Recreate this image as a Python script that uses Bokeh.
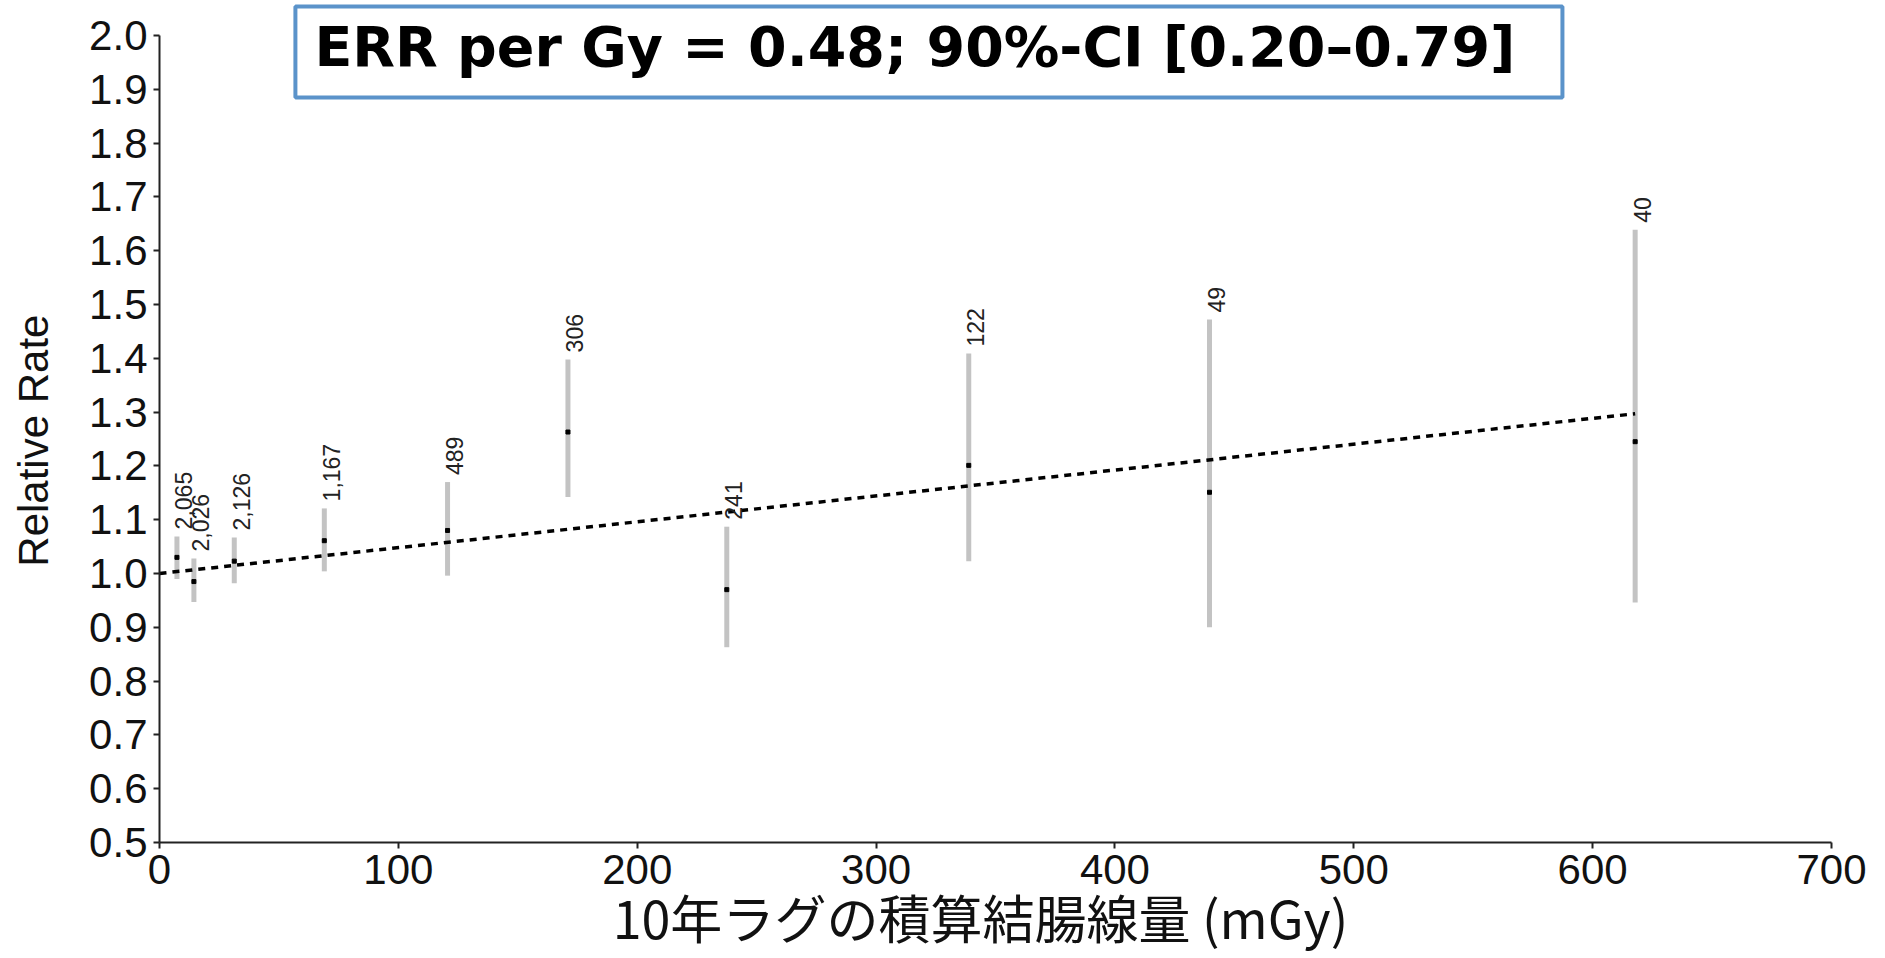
import math
from bokeh.plotting import figure
from bokeh.models import ColumnDataSource, FixedTicker, Label, NumeralTickFormatter
from bokeh.core.properties import value
from bokeh.embed import file_html
from bokeh.resources import INLINE

# ---- data ----
dose = [7.3, 14.4, 31.3, 69.0, 120.6, 171.0, 237.5, 338.8, 439.6, 617.8]
rel_rate = [1.030, 0.985, 1.023, 1.061, 1.080, 1.263, 0.970, 1.201, 1.151, 1.245]
ci_low = [0.990, 0.947, 0.982, 1.004, 0.996, 1.142, 0.863, 1.023, 0.900, 0.946]
ci_high = [1.069, 1.028, 1.067, 1.121, 1.170, 1.398, 1.087, 1.409, 1.472, 1.639]
cases = ["2,065", "2,026", "2,126", "1,167", "489", "306", "241", "122", "49", "40"]

fit_dose = [0.0, 617.8]
fit_rr = [1.0, 1.297]

x_ticks = [0, 100, 200, 300, 400, 500, 600, 700]
y_ticks = [0.5, 0.6, 0.7, 0.8, 0.9, 1.0, 1.1, 1.2, 1.3, 1.4, 1.5, 1.6, 1.7, 1.8, 1.9, 2.0]

title_text = "ERR per Gy = 0.48; 90%-CI [0.20\u20130.79]"
x_title = "10年ラグの積算結腸線量 (mGy)"
y_title = "Relative Rate"

src = ColumnDataSource(dict(dose=dose, rr=rel_rate, lo=ci_low, hi=ci_high, n=cases))

# The frame fills the whole canvas (so nothing is clipped); the axes are pinned
# to x=0 / y=0.5 and bounded to the 0-700 / 0.5-2.0 window.
p = figure(width=1877, height=956, x_range=(-66.567, 719.259), y_range=(0.2881, 2.0651),
           output_backend="svg", toolbar_location=None, min_border=0)
p.background_fill_color = "white"
p.border_fill_color = "white"
p.outline_line_color = None
p.grid.visible = False

# CI bars
p.segment(x0="dose", y0="lo", x1="dose", y1="hi", source=src,
          line_color="#C3C3C3", line_width=5)
# fitted line
p.line(fit_dose, fit_rr, line_color="black", line_width=3.5, line_dash="7 6")
# point estimates
p.scatter(x="dose", y="rr", source=src, marker="square", size=4,
          fill_color="black", line_color="black")
# case counts
p.text(x="dose", y="hi", text="n", source=src, angle=math.pi / 2,
       text_align="left", text_baseline="middle", x_offset=7, y_offset=-7,
       text_font=value("Liberation Sans"), text_font_size="23px", text_color="#222222")

for ax in (p.xaxis[0], p.yaxis[0]):
    ax.axis_line_color = "#222222"
    ax.axis_line_width = 2
    ax.major_tick_line_color = "#222222"
    ax.major_tick_line_width = 2
    ax.major_tick_out = 6
    ax.major_tick_in = 0
    ax.minor_tick_out = 0
    ax.minor_tick_in = 0
    ax.major_label_text_font = "Liberation Sans"
    ax.major_label_text_font_size = "42px"
    ax.major_label_text_color = "#111111"
    ax.major_label_standoff = 6

p.xaxis.ticker = FixedTicker(ticks=x_ticks)
p.yaxis.ticker = FixedTicker(ticks=y_ticks)
p.yaxis.formatter = NumeralTickFormatter(format="0.0")
p.xaxis.bounds = (x_ticks[0], x_ticks[-1])
p.yaxis.bounds = (y_ticks[0], y_ticks[-1])
p.xaxis.fixed_location = y_ticks[0]
p.yaxis.fixed_location = x_ticks[0]

# axis titles
p.add_layout(Label(x=-52.7, y=1.247, text=y_title, angle=math.pi / 2,
                   text_font="Liberation Sans", text_font_size="42px",
                   text_color="#111111", text_align="center", text_baseline="alphabetic"))
p.add_layout(Label(x=343.7, y=0.3626, text=x_title,
                   text_font="Noto Sans CJK JP", text_font_size="52px",
                   text_color="#111111", text_align="center", text_baseline="alphabetic"))

# boxed annotation
p.add_layout(Label(x=56.9, y=2.054, text=title_text, anchor="top_left",
                   text_font="DejaVu Sans", text_font_style="bold", text_font_size="55.5px",
                   text_color="black", text_align="left", text_baseline="top",
                   border_line_color="#5B93CA", border_line_width=4,
                   background_fill_color="white",
                   padding=dict(left=19, right=47, top=8, bottom=18)))

open("out.html", "w").write(file_html(p, INLINE))
